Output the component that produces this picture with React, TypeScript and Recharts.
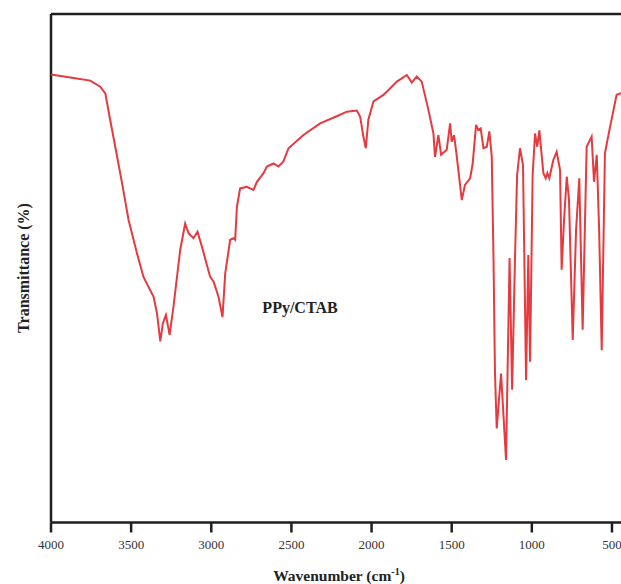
import { LineChart, Line, XAxis, YAxis, ReferenceLine } from 'recharts';

// wavenumber (cm-1)
const wavenumbers = [
  4000, 3900, 3859, 3755, 3693, 3661, 3631, 3599, 3557, 3516, 3464, 3423, 3360, 3339, 3318, 3302, 3283,
  3260, 3236, 3194, 3163, 3142, 3111, 3086, 3058, 3007, 2986, 2955, 2930, 2913, 2882, 2861, 2851,
  2840, 2820, 2778, 2737, 2715, 2674, 2653, 2612, 2581, 2550, 2518, 2425, 2321, 2217, 2154, 2092,
  2071, 2051, 2036, 2020, 1988, 1926, 1905, 1842, 1780, 1749, 1718, 1687, 1645, 1614, 1604, 1583,
  1566, 1531, 1510, 1500, 1485, 1468, 1437, 1417, 1385, 1369, 1348, 1334, 1319, 1302, 1281, 1265,
  1250, 1239, 1230, 1219, 1192, 1161, 1139, 1123, 1105, 1092, 1074, 1055, 1036, 1022, 1011, 995,
  980, 966, 953, 928, 913, 903, 891, 866, 845, 824, 814, 799, 782, 768, 745, 724,
  704, 683, 658, 627, 612, 595, 580, 564, 544, 512, 471, 444, 400,
];

// transmittance (arbitrary %, axis is unlabelled)
const transmittance = [
  88.1, 87.6, 87.4, 86.9, 85.7, 84.4, 79.2, 73.9, 66.8, 59.5, 53.0, 48.3, 44.4, 41.2, 35.6, 39.2, 40.8,
  36.9, 42.4, 53.6, 58.8, 56.9, 55.9, 57.2, 54.2, 48.3, 47.4, 44.4, 40.4, 49.0, 55.6, 55.9, 55.6,
  62.1, 65.7, 66.0, 65.4, 67.0, 68.7, 70.0, 70.6, 70.0, 71.0, 73.6, 76.2, 78.5, 79.9, 80.8, 81.0,
  79.8, 75.9, 73.6, 79.2, 82.8, 84.1, 84.7, 86.7, 88.0, 86.5, 87.7, 86.7, 81.1, 76.5, 71.9, 76.2,
  72.3, 73.3, 78.5, 74.9, 76.2, 71.9, 63.4, 66.4, 67.7, 70.6, 78.2, 77.2, 77.5, 73.6, 73.9, 76.9,
  71.9, 51.6, 29.4, 18.5, 29.3, 12.3, 52.0, 26.1, 52.0, 68.3, 73.6, 70.3, 28.0, 52.6, 31.6, 68.3,
  76.5, 73.9, 77.1, 68.7, 67.7, 68.7, 67.7, 71.3, 72.9, 69.3, 49.7, 59.5, 68.0, 63.4, 35.9, 57.5,
  67.7, 37.9, 73.9, 75.9, 67.0, 72.3, 57.5, 33.9, 72.6, 77.8, 84.1, 84.4, 84.7,
];

const xTicks = [4000, 3500, 3000, 2500, 2000, 1500, 1000, 500];

const data = wavenumbers.map((wn, i) => ({ wn, t: transmittance[i] }));

const serif = '"Liberation Serif", "Times New Roman", serif';
const axisColor = '#1f1f1f';

export default function App() {
  return (
    <div
      style={{
        position: 'absolute',
        left: 0,
        top: 0,
        width: 621,
        height: 584,
        overflow: 'hidden',
        background: '#fff',
        fontFamily: serif,
      }}
    >
      <LineChart
        width={700}
        height={584}
        data={data}
        margin={{ top: 14, right: 72, bottom: 0, left: 51 }}
        style={{ fontFamily: serif }}
      >
        <XAxis
          dataKey="wn"
          type="number"
          domain={[400, 4000]}
          reversed
          allowDataOverflow
          ticks={xTicks}
          interval={0}
          height={61.5}
          tickSize={10}
          tickMargin={7}
          axisLine={{ stroke: axisColor, strokeWidth: 2.5 }}
          tickLine={{ stroke: axisColor, strokeWidth: 2.5 }}
          tick={{ fontSize: 13, fill: '#333', fontFamily: serif }}
        />
        <YAxis type="number" domain={[0, 100]} hide />
        <ReferenceLine y={100} stroke={axisColor} strokeWidth={2.5} />
        <ReferenceLine x={4000} stroke={axisColor} strokeWidth={2.5} />
        <Line
          type="linear"
          dataKey="t"
          stroke="#e53a3f"
          strokeWidth={2}
          dot={false}
          isAnimationActive={false}
        />
        <text
          x={23}
          y={268}
          transform="rotate(-90 23 268)"
          textAnchor="middle"
          dominantBaseline="central"
          fontFamily={serif}
          fontWeight="bold"
          fontSize={16}
          fill="#222"
        >
          Transmittance (%)
        </text>
        <text
          x={339}
          y={581}
          textAnchor="middle"
          fontFamily={serif}
          fontWeight="bold"
          fontSize={15.5}
          fill="#222"
        >
          Wavenumber (cm
          <tspan dy={-6} fontSize={10}>-1</tspan>
          <tspan dy={6}>)</tspan>
        </text>
        <text
          x={300}
          y={313}
          textAnchor="middle"
          fontFamily={serif}
          fontWeight="bold"
          fontSize={16}
          fill="#222"
        >
          PPy/CTAB
        </text>
      </LineChart>
    </div>
  );
}
